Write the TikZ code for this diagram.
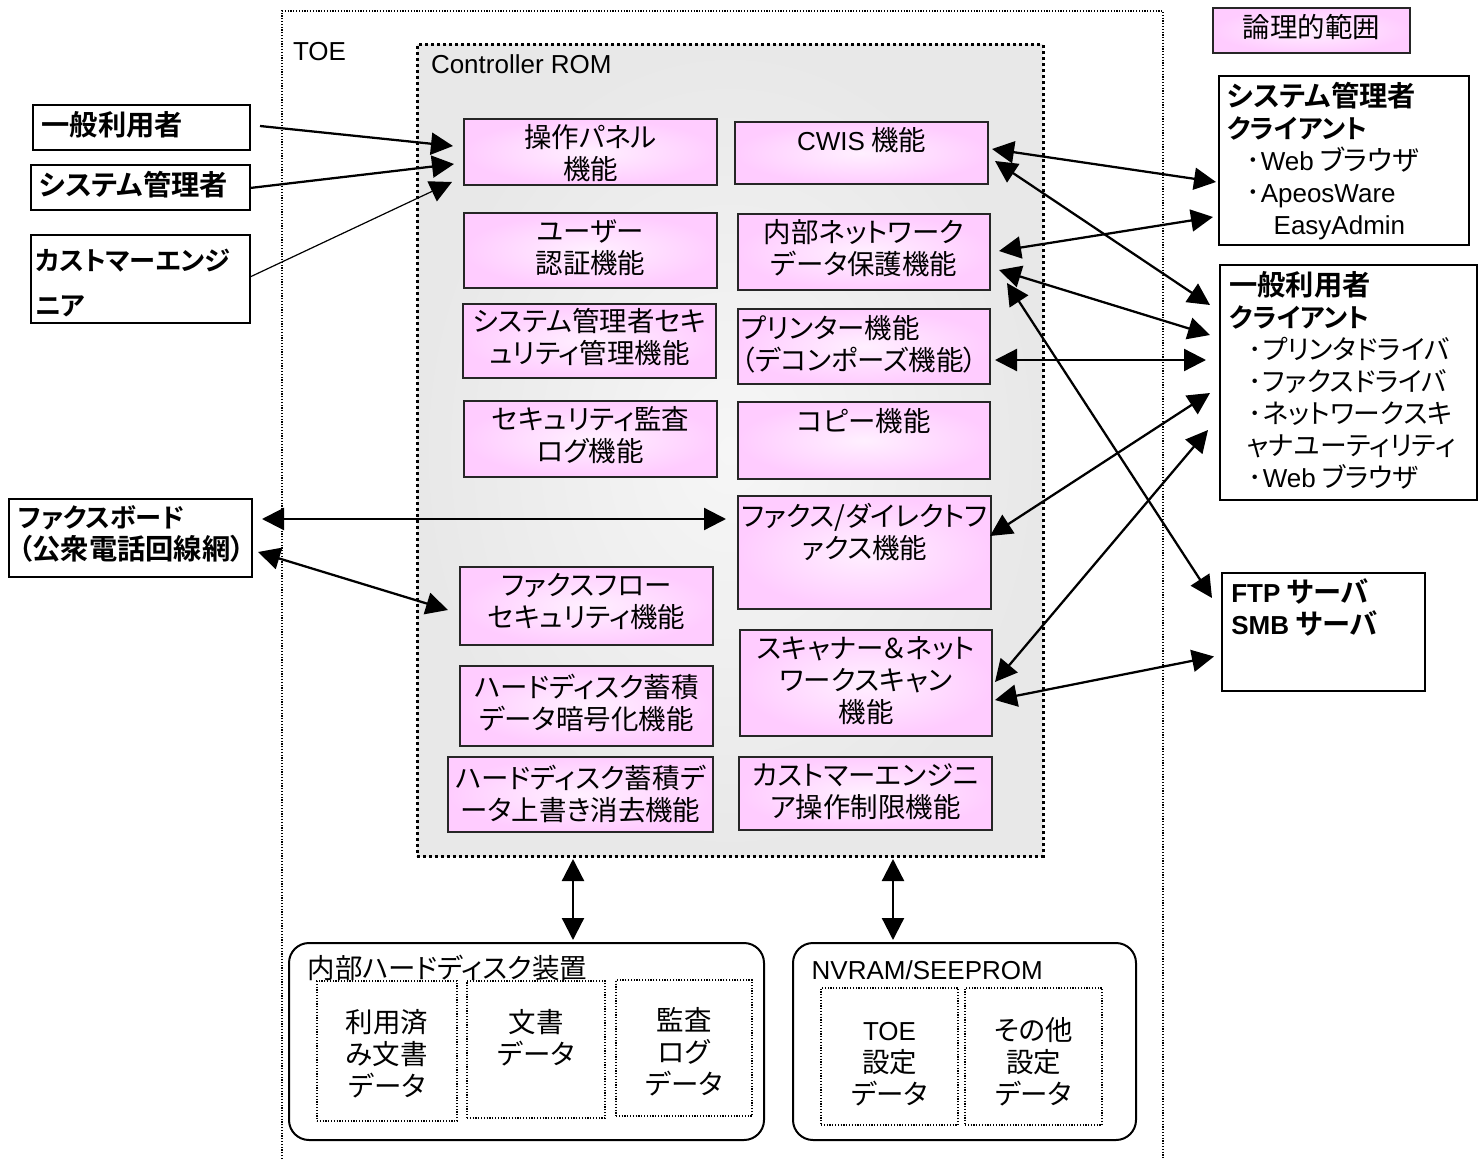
\documentclass[tikz,border=0pt]{standalone}
\usepackage{fontspec}
\setmainfont{Noto Sans CJK JP}[RawFeature=+palt,BoldFont=* Bold]
\newfontfamily\latf{Liberation Sans}[BoldFont=* Bold]
\newcommand{\lat}[1]{{\latf\fontsize{19.5}{24}\selectfont #1}}
\newcommand{\nk}{\makebox[.55em]{･}}
\newcommand{\bd}{\bfseries\fontsize{21.2}{24}\selectfont}
\newcommand{\bdk}{\bfseries\fontsize{19.7}{24}\selectfont}
\newcommand{\rgk}{\fontsize{20.1}{24}\selectfont}
\usetikzlibrary{arrows.meta,calc}
\tikzset{
  x=.75pt,y=-.75pt,
  base/.style={inner sep=0pt,outer sep=0pt,anchor=north west,font=\fontsize{20.6}{24}\selectfont},
  pinkbox/.style={base,draw=black!85,line width=1.5pt,inner color=pinkin,outer color=pinkout},
  whitebox/.style={base,draw=black,line width=1.5pt,fill=white},
  roundbox/.style={base,draw=black,line width=1.5pt,fill=white,rounded corners=15pt},
  dotbox/.style={base,draw=black,line width=.8pt,dash pattern=on .9pt off 1.2pt,fill=white},
  rombox/.style={base,draw=black,line width=2.25pt,dash pattern=on 2.25pt off 2.25pt,inner color=romin,outer color=romout},
  tag/.style={inner sep=0pt,outer sep=0pt,anchor=west,font=\latf\fontsize{19.5}{24}\selectfont},
  conn/.style={line width=1.7pt,-{Triangle[length=16.5pt,width=16.5pt]}},
  thinconn/.style={conn,line width=.9pt},
  dconn/.style={line width=1.7pt,{Triangle[length=16.5pt,width=16.5pt]}-{Triangle[length=16.5pt,width=16.5pt]}},
}
\definecolor{pinkin}{HTML}{FFF0FF}
\definecolor{pinkout}{HTML}{FFCCFF}
\definecolor{romin}{HTML}{F6F6F6}
\definecolor{romout}{HTML}{E8E8E8}
% name, x1, y1, x2, y2, style, top inset (px), text
\newcommand{\bxnode}[8]{%
  \pgfmathsetlengthmacro{\bw}{(#4-#2)*.75pt}%
  \pgfmathsetlengthmacro{\bh}{(#5-#3)*.75pt}%
  \pgfmathsetlengthmacro{\bi}{#7*.75pt}%
  \node[#6] (#1) at (#2,#3) {\parbox[c][\bh][t]{\bw}{\lineskiplimit=-100pt\vspace*{\bi}\centering\strut #8}};%
}
\newcommand{\lft}[1]{\raggedright\leftskip=#1pt\relax}
\begin{document}
\begin{tikzpicture}
\path[fill=white,use as bounding box] (0,0) rectangle (1478,1159);
% TOE frame
\draw[black,line width=.8pt,dash pattern=on .9pt off 1.2pt] (282,1159) -- (282,11) -- (1163,11) -- (1163,1159);
\node[tag] (toe) at (293,52) {TOE};
% ROM
\bxnode{rom}{417}{45}{1043}{856}{rombox}{0}{}
\node[tag] (romlabel) at (431,64) {Controller ROM};
% functions
\bxnode{op}{464}{119}{717}{185}{pinkbox}{5.6}{操作パネル\\機能}
\bxnode{cwis}{735}{122}{988}{184}{pinkbox}{5.6}{\lat{CWIS} 機能}
\bxnode{user}{464}{213}{717}{288}{pinkbox}{6.6}{ユーザー\\認証機能}
\bxnode{internal}{738}{214}{990}{290}{pinkbox}{5.6}{内部ネットワーク\\データ保護機能}
\bxnode{sysadm}{463}{304}{716}{378}{pinkbox}{4.6}{システム管理者セキ\\ュリティ管理機能}
\bxnode{printer}{738}{309}{990}{384}{pinkbox}{6.6}{\lft{2.5}プリンター機能\\（デコンポーズ機能）}
\bxnode{audit}{464}{401}{717}{477}{pinkbox}{5.6}{セキュリティ監査\\ログ機能}
\bxnode{copy}{738}{402}{990}{479}{pinkbox}{6.6}{コピー機能}
\bxnode{fax}{738}{496}{991}{609}{pinkbox}{7.6}{ファクス/ダイレクトフ\\ァクス機能}
\bxnode{faxflow}{460}{567}{713}{645}{pinkbox}{5.6}{ファクスフロー\\セキュリティ機能}
\bxnode{hddenc}{460}{666}{713}{746}{pinkbox}{7.6}{ハードディスク蓄積\\データ暗号化機能}
\bxnode{scan}{740}{630}{992}{736}{pinkbox}{5.6}{スキャナー＆ネット\\ワークスキャン\\機能}
\bxnode{hddover}{448}{757}{713}{832}{pinkbox}{7.6}{ハードディスク蓄積デ\\ータ上書き消去機能}
\bxnode{ce}{739}{757}{992}{830}{pinkbox}{5.6}{カストマーエンジニ\\ア操作制限機能}
\bxnode{legend}{1213}{8}{1410}{53}{pinkbox}{6.6}{論理的範囲}
% actors
\bxnode{general}{33}{105}{250}{150}{whitebox}{6.6}{\bd\lft{6.5}一般利用者}
\bxnode{admin}{31}{165}{250}{210}{whitebox}{6.6}{\bd\lft{6}システム管理者}
\bxnode{engineer}{31}{235}{250}{323}{whitebox}{12.6}{\bdk\lft{3}カストマーエンジ\\[9.75pt]ニア}
\bxnode{faxboard}{9}{499}{252}{577}{whitebox}{5.6}{\lft{7}{\bdk ファクスボード}\\{\bd （公衆電話回線網）}}
\bxnode{sysclient}{1219}{76}{1469}{245}{whitebox}{6.6}{\lft{6}{\bd システム管理者}\\{\bdk クライアント}\\\hspace*{14pt}\nk\lat{Web} ブラウザ\\\hspace*{14pt}\nk\lat{ApeosWare}\\\hspace*{35pt}\lat{EasyAdmin}}
\bxnode{userclient}{1220}{265}{1477}{500}{whitebox}{6.6}{\lft{7}{\bd 一般利用者}\\{\bdk クライアント}\\\rgk\hspace*{14pt}\nk プリンタドライバ\\\hspace*{14pt}\nk ファクスドライバ\\\hspace*{14pt}\nk ネットワークスキ\\\hspace*{13pt}ャナユーティリティ\\\hspace*{14pt}\nk\lat{Web} ブラウザ}
\bxnode{ftp}{1222}{573}{1425}{691}{whitebox}{5.6}{\bd\lft{7}\lat{\bfseries FTP} サーバ\\\lat{\bfseries SMB} サーバ}
% storage
\bxnode{hdd}{289}{943}{764}{1140}{roundbox}{11.6}{\lft{14}内部ハードディスク装置}
\bxnode{nvram}{793}{943}{1136}{1140}{roundbox}{13.6}{\lft{14}\lat{NVRAM/SEEPROM}}
\bxnode{used}{317}{981}{457}{1121}{dotbox}{28.6}{利用済\\み文書\\データ}
\bxnode{docdata}{467}{981}{605}{1118}{dotbox}{28.6}{文書\\データ}
\bxnode{auditdata}{616}{980}{752}{1116}{dotbox}{27.6}{監査\\ログ\\データ}
\bxnode{toedata}{821}{988}{958}{1125}{dotbox}{29.6}{\lat{TOE}\\設定\\データ}
\bxnode{other}{965}{988}{1102}{1125}{dotbox}{29.6}{その他\\設定\\データ}
% connectors
\draw[conn] ($(general.east)+(10,-1.5)$) -- ($(op.west)+(-11,-6)$);
\draw[conn] ($(admin.east)+(0,.5)$) -- ($(op.west)+(-10,12)$);
\draw[thinconn] ($(engineer.east)+(0,-2)$) -- ($(op.west)+(-12,30)$);
\draw[dconn] ($(cwis.east)+(4,-4)$) -- ($(sysclient.west)+(-3,21.5)$);
\draw[dconn] ($(cwis.east)+(7,8)$) -- ($(userclient.west)+(-10,-77.5)$);
\draw[dconn] ($(internal.east)+(9,-1)$) -- ($(sysclient.west)+(-6,56.5)$);
\draw[dconn] ($(internal.east)+(9,18)$) -- ($(userclient.west)+(-10,-47.5)$);
\draw[dconn] ($(printer.east)+(5,13.5)$) -- ($(userclient.west)+(-14,-22.5)$);
\draw[dconn] ($(internal.east)+(17,31)$) -- ($(ftp.west)+(-10,-34)$);
\draw[dconn] ($(fax.east)+(-1,-16.5)$) -- ($(userclient.west)+(-10,10.5)$);
\draw[dconn] ($(scan.east)+(3,-1)$) -- ($(userclient.west)+(-12,47.5)$);
\draw[dconn] ($(scan.east)+(3,17)$) -- ($(ftp.west)+(-8,24.5)$);
\draw[dconn] ($(faxboard.east)+(10,-19)$) -- ($(fax.west)+(-12,-33.5)$);
\draw[dconn] ($(faxboard.east)+(6,14)$) -- ($(faxflow.west)+(-12,4)$);
\draw[dconn] ($(rom.south)+(-157,3)$) -- ($(hdd.north)+(46.5,-3)$);
\draw[dconn] ($(rom.south)+(163,3)$) -- ($(nvram.north)+(-71.5,-3)$);
\end{tikzpicture}
\end{document}
